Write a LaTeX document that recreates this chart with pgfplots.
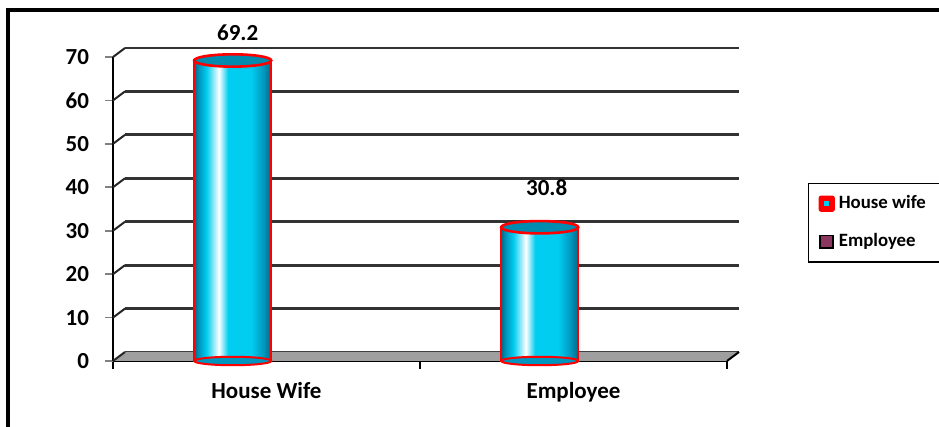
\documentclass[border=0pt]{standalone}
\usepackage{pgfplots}
\pgfplotsset{compat=1.18}
\usepackage{fontspec}
\setmainfont{Carlito}
\definecolor{cdark}{RGB}{0,105,135}
\definecolor{cmid}{RGB}{0,150,190}
\definecolor{cbright}{RGB}{0,205,240}
\definecolor{ctop}{RGB}{0,140,175}
\definecolor{emp}{RGB}{140,55,95}
\pgfdeclarehorizontalshading{cyl}{100bp}{color(0bp)=(cdark); color(25bp)=(cdark); color(28bp)=(cmid); color(33bp)=(cbright); color(41bp)=(white); color(47bp)=(cbright); color(62bp)=(cbright); color(70bp)=(cmid); color(75bp)=(cdark); color(100bp)=(cdark)}
\pgfplotsset{cylbar/.style={forget plot, ybar, bar width=38.5pt, draw=red, line width=1pt, shade, shading=cyl}}
\begin{document}
\begin{tikzpicture}
\useasboundingbox (0pt,0pt) rectangle (469.5pt,213.5pt);
\begin{scope}
\clip (0pt,0pt) rectangle (469.5pt,213.5pt);
\draw[line width=2pt] (4pt,-20pt) rectangle (490pt,208.5pt);
\end{scope}
% back wall with gridlines
\begin{axis}[at={(62.5pt,37.5pt)}, anchor=south west, scale only axis,
  width=307pt, height=152pt, xmin=0, xmax=2, ymin=0, ymax=70,
  axis line style={draw=none}, xtick=\empty, ytick={0,10,...,70}, yticklabels={},
  major tick length=0pt, ymajorgrids, grid style={line width=1.4pt, black!80}]
\addplot[draw=none] coordinates {(0,0)};
\end{axis}
% front
\begin{axis}[at={(56.5pt,33pt)}, anchor=south west, scale only axis,
  width=307pt, height=152pt, xmin=0, xmax=2, ymin=0, ymax=70, clip=false,
  axis x line=bottom, axis y line=left,
  axis line style={-, line width=1.3pt, black},
  xtick={0,1,2}, xticklabels={},
  extra x ticks={0.5,1.5}, extra x tick labels={House Wife,Employee},
  extra x tick style={tick style={draw=none}},
  ytick={0,10,...,70},
  tick align=outside, major tick length=4pt,
  xtick style={black, line width=0.8pt},
  ytick style={gray, line width=0.8pt},
  /pgf/number format/assume math mode=true,
  tick label style={font=\fontsize{11.5}{13}\selectfont\bfseries},
  yticklabel style={xshift=-4.5pt},
  xticklabel style={yshift=-3pt},
  legend cell align=left,
  legend style={at={(1.132,0.5855)}, anchor=north west, draw=black, line width=0.6pt,
    font=\fontsize{9.4}{11}\selectfont\bfseries, row sep=7pt, inner xsep=5pt, inner ysep=4pt},
]
\fill[gray!75] (axis cs:0,0) -- (axis cs:2,0) -- ++(6pt,4.5pt) -- ([shift={(6pt,4.5pt)}]axis cs:0,0) -- cycle;
\pgfplotsinvokeforeach{0,10,20,30,40,50,60,70}{\draw[black!85, line width=1pt] (axis cs:0,#1) -- ++(6pt,4.5pt);}
\draw[black, line width=1pt] (axis cs:2,0) -- ++(6pt,4.5pt);
\addplot[forget plot, only marks, mark=*, mark size=19.25pt, mark options={yscale=0.11, fill=cmid, draw=red, line width=1pt}] coordinates {(0.39,0) (1.39,0)};
\addplot[cylbar] coordinates {(0.39,69.2)};
\addplot[cylbar] coordinates {(1.39,30.8)};
\addplot[forget plot, only marks, mark=*, mark size=19.25pt, mark options={yscale=0.16, fill=ctop, draw=red, line width=1.3pt}] coordinates {(0.39,69.2) (1.39,30.8)};
\addplot[forget plot, draw=none, nodes near coords, point meta=y,
  nodes near coords style={font=\fontsize{11.5}{13}\selectfont\bfseries, yshift=6.5pt, xshift=2.5pt, /pgf/number format/fixed, /pgf/number format/precision=1, /pgf/number format/fixed zerofill}] coordinates {(0.39,69.2)};
\addplot[forget plot, draw=none, nodes near coords, point meta=y,
  nodes near coords style={font=\fontsize{11.5}{13}\selectfont\bfseries, yshift=12.5pt, xshift=3.5pt, /pgf/number format/fixed, /pgf/number format/precision=1, /pgf/number format/fixed zerofill}] coordinates {(1.39,30.8)};
\addlegendimage{legend image code/.code={\draw[fill=red, draw=red, rounded corners=1pt, line width=0.5pt] (0pt,-3.8pt) rectangle (7.6pt,3.8pt); \fill[cbright] (2.8pt,-1pt) rectangle (4.8pt,1pt);}}
\addlegendentry{House wife}
\addlegendimage{legend image code/.code={\draw[fill=emp, draw=black, line width=0.9pt] (0.6pt,-3pt) rectangle (6.8pt,3.2pt);}}
\addlegendentry{Employee}
\end{axis}
\end{tikzpicture}
\end{document}
